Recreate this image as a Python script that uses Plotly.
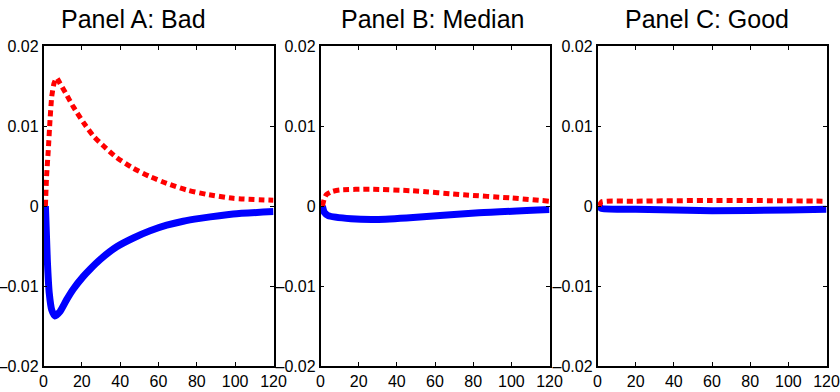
import plotly.graph_objects as go

# ---- data ----
titles = ["Panel A: Bad", "Panel B: Median", "Panel C: Good"]

a_red_t = [1, 1.6, 2.5, 3.4, 4.3, 5.5, 6.9, 8.6, 12.1, 15.5, 20.8, 26, 31.2, 38.2, 46.9,
           55.6, 64.3, 74.7, 85.1, 99, 120]
a_red_v = [0, 0.0037, 0.0070, 0.01075, 0.01367, 0.01533, 0.0160, 0.01533, 0.01388, 0.01242,
           0.01045, 0.00875, 0.00753, 0.00605, 0.00471, 0.00367, 0.00283, 0.0020, 0.00146,
           0.00096, 0.00072]
a_blue_t = [1, 2, 3, 4.3, 6, 8.6, 12.1, 15.5, 20.8, 24.3, 29.5, 38.2, 46.9, 55.6, 64.3,
            72.9, 81.6, 99, 120]
a_blue_v = [0, -0.0068, -0.0109, -0.0130, -0.01375, -0.0132, -0.0117, -0.0104, -0.0088,
            -0.0079, -0.0067, -0.0051, -0.0040, -0.0031, -0.0024, -0.0019, -0.00155,
            -0.0010, -0.0007]

b_red_t = [1, 2, 3, 6, 10, 26, 48, 75, 100, 120]
b_red_v = [0, 0.0009, 0.0014, 0.0018, 0.0020, 0.0021, 0.0019, 0.0014, 0.0010, 0.0006]
b_blue_t = [1, 2, 4, 16, 28, 45, 83, 120]
b_blue_v = [0, -0.0008, -0.0012, -0.0016, -0.0017, -0.0015, -0.00085, -0.00045]

c_red_t = [1, 2, 20, 60, 100, 120]
c_red_v = [0, 0.0005, 0.0006, 0.0007, 0.00065, 0.0006]
c_blue_t = [1, 2, 20, 60, 100, 120]
c_blue_v = [0, -0.0003, -0.0004, -0.0006, -0.0005, -0.0004]

x_ticks = [0, 20, 40, 60, 80, 100, 120]
y_ticks = [-0.02, -0.01, 0, 0.01, 0.02]
y_tick_text = ["\u20130.02", "\u20130.01", "0", "0.01", "0.02"]

panels = [
    (a_blue_t, a_blue_v, a_red_t, a_red_v),
    (b_blue_t, b_blue_v, b_red_t, b_red_v),
    (c_blue_t, c_blue_v, c_red_t, c_red_v),
]

W, H = 840, 392
x_domains = [(43.5 / W, 273.5 / W), (320.5 / W, 549.5 / W), (597.5 / W, 826.5 / W)]
y_domain = (1 - 366 / H, 1 - 46 / H)
title_x = [133, 433, 707]

fig = go.Figure()
tick_font = dict(family="Liberation Sans Narrow, Arial Narrow, sans-serif", size=16, color="black")

for i, (bt, bv, rt, rv) in enumerate(panels):
    sfx = "" if i == 0 else str(i + 1)
    xa, ya = "x" + sfx, "y" + sfx
    fig.add_trace(go.Scatter(x=bt, y=bv, mode="lines", xaxis=xa, yaxis=ya,
                             line=dict(color="rgb(0,0,255)", width=7, shape="spline", smoothing=0.6),
                             showlegend=False, hoverinfo="skip"))
    fig.add_trace(go.Scatter(x=rt, y=rv, mode="lines", xaxis=xa, yaxis=ya,
                             line=dict(color="rgb(255,0,0)", width=5, dash="6px,4px",
                                       shape="spline", smoothing=0.6),
                             showlegend=False, hoverinfo="skip"))
    common = dict(showgrid=False, zeroline=False, showline=True, linecolor="black", linewidth=1.5,
                  mirror="allticks", ticks="inside", ticklen=4, tickwidth=1, tickcolor="black",
                  tickfont=tick_font, fixedrange=True, automargin=False,
                  ticklabeloverflow="allow")
    fig.layout["xaxis" + sfx] = dict(domain=list(x_domains[i]), anchor=ya, range=[0, 120],
                                     tickvals=x_ticks, ticktext=[str(v) for v in x_ticks], **common)
    fig.layout["yaxis" + sfx] = dict(domain=list(y_domain), anchor=xa, range=[-0.02, 0.02],
                                     tickvals=y_ticks, ticktext=y_tick_text, **common)
    fig.add_annotation(text=titles[i], xref="paper", yref="paper", x=title_x[i] / W,
                       y=1 - 19 / H, xanchor="center", yanchor="middle", showarrow=False,
                       font=dict(family="Liberation Sans, Arial, sans-serif", size=25, color="black"))

fig.update_layout(width=W, height=H, margin=dict(l=0, r=0, t=0, b=0, autoexpand=False),
                  paper_bgcolor="white", plot_bgcolor="white")

fig.write_html("out.html", config={"displayModeBar": False},
               post_script="document.body.style.margin='0px';document.body.style.overflow='hidden';")
